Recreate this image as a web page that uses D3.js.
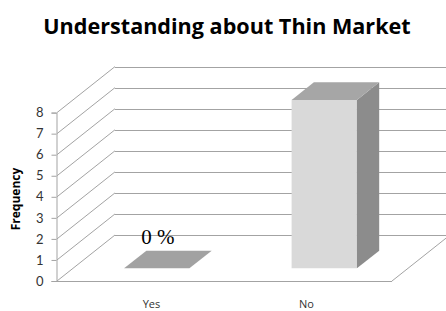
<!DOCTYPE html>
<html>
<head>
<meta charset="utf-8">
<script src="https://cdn.jsdelivr.net/npm/d3@7"></script>
<style>
  body { margin: 0; background: #fff; }
  svg { display: block; }
</style>
</head>
<body>
<svg id="chart" width="446" height="311"></svg>
<script>
// data
const categories = ['Yes', 'No']
const frequency = [0, 8]
const barLabels = ['0 %', '']
const yTicks = [0, 1, 2, 3, 4, 5, 6, 7, 8]

const W = 446, H = 311
const svg = d3.select('#chart')

// front plane of the 3d box
const x = d3.scaleBand().domain(categories).range([57, 392]).paddingInner(0.61).paddingOuter(0.305)
const y = d3.scaleLinear().domain([0, 8]).range([281, 112.6])
const labelX = d3.scalePoint().domain(categories).range([74, 384]).padding(0.5)

// depth offset of back wall, and bar depth (fractions of the depth)
const depth = { dx: 58, dy: -46 }
const bar0 = 0.276, bar1 = 0.66
const proj = (px, py, f) => [px + f * depth.dx, py + f * depth.dy]

const gridColor = '#a3a3a3'
const sans = '"Open Sans", Lato, "Liberation Sans", sans-serif'

// title
svg.append('text')
  .attr('x', 227).attr('y', 34)
  .attr('text-anchor', 'middle')
  .attr('font-family', sans)
  .attr('font-weight', 'bold')
  .attr('font-size', 21.6)
  .attr('fill', '#000')
  .text('Understanding about Thin Market')

const grid = svg.append('g').attr('stroke', gridColor).attr('stroke-width', 1).attr('fill', 'none')

// back wall gridlines
grid.selectAll('line.back')
  .data(yTicks)
  .enter()
  .append('line')
  .attr('x1', d => proj(57, y(d), 1)[0])
  .attr('y1', d => Math.round(proj(57, y(d), 1)[1]) + 0.5)
  .attr('x2', d => proj(392, y(d), 1)[0])
  .attr('y2', d => Math.round(proj(392, y(d), 1)[1]) + 0.5)

// side wall diagonals
grid.selectAll('line.side')
  .data(yTicks)
  .enter()
  .append('line')
  .attr('x1', 57)
  .attr('y1', d => y(d))
  .attr('x2', d => proj(57, y(d), 1)[0])
  .attr('y2', d => proj(57, y(d), 1)[1])

// floor edges
grid.append('line')
  .attr('x1', 57).attr('y1', Math.round(y(0)) + 0.5)
  .attr('x2', 392).attr('y2', Math.round(y(0)) + 0.5)
grid.append('line')
  .attr('x1', 392).attr('y1', y(0))
  .attr('x2', proj(392, y(0), 1)[0]).attr('y2', proj(392, y(0), 1)[1])

// value axis
const axis = d3.axisLeft(y).tickValues(yTicks).tickSize(5).tickPadding(8).tickFormat(d3.format('d'))
const ax = svg.append('g').attr('transform', 'translate(56.5,0)').call(axis)
ax.select('.domain').attr('stroke', gridColor)
ax.selectAll('.tick line').attr('stroke', gridColor)
ax.selectAll('.tick text')
  .attr('font-family', 'Lato, "Liberation Sans", sans-serif')
  .attr('font-size', 13)
  .attr('fill', '#333')

svg.append('text')
  .attr('transform', 'translate(20,199) rotate(-90)')
  .attr('text-anchor', 'middle')
  .attr('font-family', sans)
  .attr('font-weight', 'bold')
  .attr('font-size', 12)
  .attr('fill', '#000')
  .text('Frequency')

// 3d bars
const bars = svg.append('g')
categories.forEach((c, i) => {
  const v = frequency[i]
  const xl = x(c), xr = x(c) + x.bandwidth()
  const yt = y(v), yb = y(0)
  const g = bars.append('g')
  const poly = pts => pts.map(p => p.join(',')).join(' ')
  if (v > 0) {
    // front
    g.append('polygon')
      .attr('points', poly([proj(xl, yt, bar0), proj(xr, yt, bar0), proj(xr, yb, bar0), proj(xl, yb, bar0)]))
      .attr('fill', '#d9d9d9')
    // side
    g.append('polygon')
      .attr('points', poly([proj(xr, yt, bar0), proj(xr, yt, bar1), proj(xr, yb, bar1), proj(xr, yb, bar0)]))
      .attr('fill', '#8c8c8c')
  }
  // top
  g.append('polygon')
    .attr('points', poly([proj(xl, yt, bar0), proj(xr, yt, bar0), proj(xr, yt, bar1), proj(xl, yt, bar1)]))
    .attr('fill', v > 0 ? '#a6a6a6' : '#a2a2a2')
})

// data label
svg.selectAll('text.lab')
  .data(categories)
  .enter()
  .append('text')
  .attr('class', 'lab')
  .attr('x', d => proj(x(d) + x.bandwidth() / 2, 0, bar0)[0] + 1)
  .attr('y', 244)
  .attr('text-anchor', 'middle')
  .attr('font-family', '"Liberation Serif", "DejaVu Serif", serif')
  .attr('font-size', 21)
  .attr('fill', '#000')
  .text((d, i) => barLabels[i])

// category labels
svg.selectAll('text.cat')
  .data(categories)
  .enter()
  .append('text')
  .attr('class', 'cat')
  .attr('x', d => labelX(d))
  .attr('y', 308)
  .attr('text-anchor', 'middle')
  .attr('font-family', sans)
  .attr('font-size', 11)
  .attr('fill', '#333')
  .text(d => d)
</script>
</body>
</html>
